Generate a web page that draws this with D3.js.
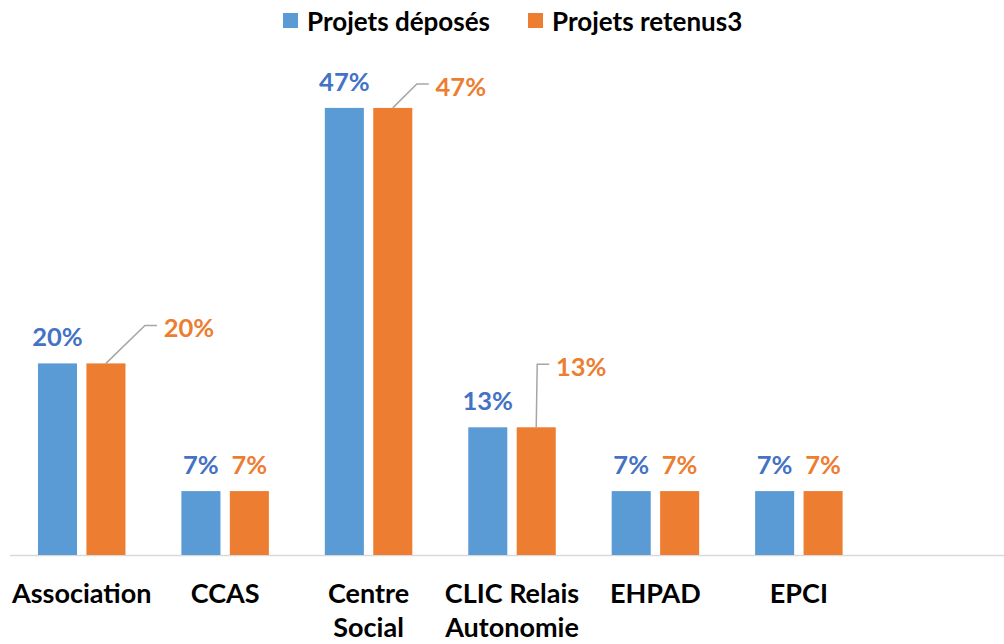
<!DOCTYPE html>
<html>
<head>
<meta charset="utf-8">
<script src="https://cdn.jsdelivr.net/npm/d3@7"></script>
<style>
  body { margin: 0; background: #fff; }
  svg { display: block; font-family: Lato, "Open Sans", sans-serif; font-weight: bold; }
</style>
</head>
<body>
<script>
// data
const categories = ["Association", "CCAS", "Centre Social", "CLIC Relais Autonomie", "EHPAD", "EPCI"]
const seriesNames = ["Projets déposés", "Projets retenus3"]
const deposes = [20, 6.67, 46.67, 13.33, 6.67, 6.67]
const retenus = [20, 6.67, 46.67, 13.33, 6.67, 6.67]
const labelLines = [["Association"], ["CCAS"], ["Centre", "Social"], ["CLIC Relais", "Autonomie"], ["EHPAD"], ["EPCI"]]

const colors = ["#5b9bd5", "#ed7d31"]
const labelColors = ["#4472c4", "#ed7d31"]

// orange labels that are pulled away with a leader line
const moved = {
  "Association": {dx: 83, dy: -36},
  "Centre Social": {dx: 68, dy: -22},
  "CLIC Relais Autonomie": {dx: 45, dy: -61}
}

const svgWidth = 1004, svgHeight = 644
const base = 555

const svg = d3.select("body").append("svg")
  .attr("width", svgWidth).attr("height", svgHeight)

// one blank slot at the right, like the original
const x0 = d3.scaleBand()
  .domain(categories.concat(["_blank"]))
  .range([10, 1014])
  .paddingInner(0.39)
  .paddingOuter(0.195)

const x1 = d3.scaleBand()
  .domain(seriesNames)
  .range([0, x0.bandwidth()])
  .paddingInner(0.194)

const y = d3.scaleLinear().domain([0, 50]).range([base, 76])

const rows = categories.map(function(c, i) {
  return {cat: c, vals: [deposes[i], retenus[i]]}
})

// axis line
svg.append("line")
  .attr("x1", 10).attr("x2", svgWidth)
  .attr("y1", base + 0.5).attr("y2", base + 0.5)
  .attr("stroke", "#d9d9d9").attr("stroke-width", 1.5)

const g = svg.selectAll("g.cat")
  .data(rows)
  .enter().append("g")
  .attr("class", "cat")
  .attr("transform", function(d) { return "translate(" + x0(d.cat) + ",0)" })

g.selectAll("rect")
  .data(function(d) { return d.vals.map(function(v, j) { return {cat: d.cat, v: v, j: j} }) })
  .enter().append("rect")
  .attr("x", function(d) { return x1(seriesNames[d.j]) })
  .attr("y", function(d) { return y(d.v) })
  .attr("width", x1.bandwidth())
  .attr("height", function(d) { return base - y(d.v) })
  .attr("fill", function(d) { return colors[d.j] })

// value labels
rows.forEach(function(r) {
  r.vals.forEach(function(v, j) {
    const cx = x0(r.cat) + x1(seriesNames[j]) + x1.bandwidth() / 2
    const top = y(v)
    let lx = cx, ly = top - 27
    const m = j === 1 ? moved[r.cat] : null
    if (m) {
      lx = cx + m.dx
      ly = top + m.dy
      const endX = lx - 32, elbowX = endX - 12, elbowY = ly - 2
      svg.append("polyline")
        .attr("points", [[cx, top], [elbowX, elbowY], [endX, elbowY]].map(function(p) { return p.join(",") }).join(" "))
        .attr("fill", "none")
        .attr("stroke", "#a6a6a6")
        .attr("stroke-width", 1.5)
    }
    svg.append("text")
      .attr("x", lx).attr("y", ly)
      .attr("text-anchor", "middle")
      .attr("dominant-baseline", "central")
      .attr("font-size", 25.5)
      .attr("fill", labelColors[j])
      .text(Math.round(v) + "%")
  })
})

// category labels
categories.forEach(function(c, i) {
  const t = svg.append("text")
    .attr("x", x0(c) + x0.bandwidth() / 2)
    .attr("y", 594)
    .attr("text-anchor", "middle")
    .attr("font-size", 27)
    .attr("fill", "#000")
  labelLines[i].forEach(function(line, k) {
    t.append("tspan")
      .attr("x", x0(c) + x0.bandwidth() / 2)
      .attr("dy", k === 0 ? "0.35em" : 34)
      .text(line)
  })
})

// legend
const legendX = [283, 528]
seriesNames.forEach(function(s, j) {
  svg.append("rect")
    .attr("x", legendX[j]).attr("y", 13)
    .attr("width", 15).attr("height", 15)
    .attr("fill", colors[j])
  svg.append("text")
    .attr("x", legendX[j] + 24).attr("y", 21)
    .attr("dominant-baseline", "central")
    .attr("font-size", 26)
    .attr("fill", "#000")
    .text(s)
})
</script>
</body>
</html>
